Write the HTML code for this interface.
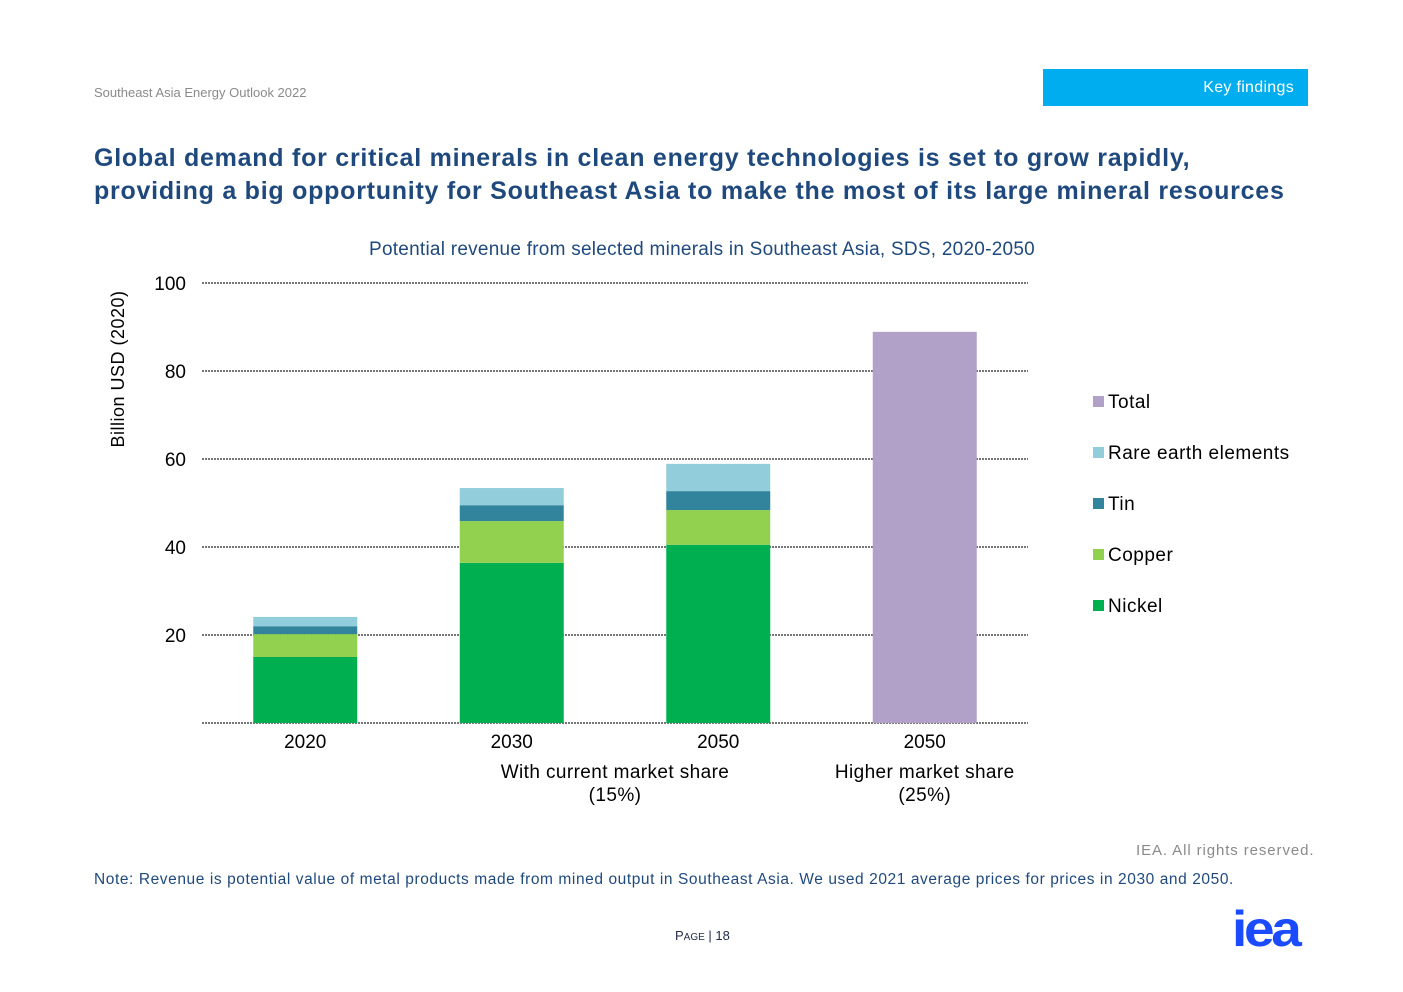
<!DOCTYPE html>
<html><head><meta charset="utf-8"><style>
body{margin:0;background:#fff;font-family:"Liberation Sans",Arial,sans-serif;}
#page{position:relative;width:1403px;height:992px;overflow:hidden;background:#fff;}
.abs{position:absolute;white-space:nowrap;}
</style></head><body>
<div id="page">
<div class="abs" style="left:94px;top:85px;font-size:13px;color:#8a8a8a;">Southeast Asia Energy Outlook 2022</div>
<div class="abs" style="left:1043px;top:69px;width:265px;height:37px;background:#00aeef;color:#fff;font-size:16px;line-height:37px;text-align:right;box-sizing:border-box;padding-right:14px;letter-spacing:0.3px;">Key findings</div>
<div class="abs" style="left:94px;top:142px;font-size:25px;font-weight:bold;color:#1f497d;line-height:33px;letter-spacing:0.75px;">Global demand for critical minerals in clean energy technologies is set to grow rapidly,<br>providing a big opportunity for Southeast Asia to make the most of its large mineral resources</div>
<svg class="abs" style="left:0;top:0" width="1403" height="992" id="chart"></svg>
<div class="abs" style="left:1136px;top:842px;font-size:15px;color:#8a8a8a;letter-spacing:0.9px;">IEA. All rights reserved.</div>
<div class="abs" style="left:94px;top:871px;font-size:15.5px;color:#1f497d;letter-spacing:0.58px;">Note: Revenue is potential value of metal products made from mined output in Southeast Asia. We used 2021 average prices for prices in 2030 and 2050.</div>
<div class="abs" style="left:675px;top:928px;font-size:13px;color:#1f2a44;">P<span style="font-size:10px">AGE</span> | 18</div>
<div class="abs" style="left:1232px;top:903px;font-size:50px;font-weight:bold;color:#1a4bff;letter-spacing:-3px;line-height:52px;transform:scaleX(1.1);transform-origin:left;">iea</div>
</div>
<script>
const categories=["2020","2030","2050","2050"];
const nickel=[15.0,36.4,40.5,0];
const copper=[5.2,9.5,7.9,0];
const tin=[1.8,3.6,4.3,0];
const rareEarth=[2.1,3.9,6.2,0];
const total=[0,0,0,88.9];
const yTicks=[20,40,60,80,100];
const seriesNames=["Nickel","Copper","Tin","Rare earth elements","Total"];
const colors=["#00b050","#92d050","#31849b","#92cddc","#b1a0c7"];
const svg=document.getElementById('chart');
const NS="http://www.w3.org/2000/svg";
const x0=202,x1=1028,yBase=723,yTop=283,yMax=100;
const y=v=>yBase-(v/yMax)*(yBase-yTop);
const band=(x1-x0)/categories.length;
const bw=104;
const xc=i=>x0+band*(i+0.5);
function mk(t,a){const e=document.createElementNS(NS,t);for(const k in a)e.setAttribute(k,a[k]);svg.appendChild(e);return e;}
function txt(s,a){const e=mk('text',a);e.textContent=s;return e;}
let t=txt("Potential revenue from selected minerals in Southeast Asia, SDS, 2020-2050",{x:702,y:255,'text-anchor':'middle','font-size':19,fill:'#1f497d','letter-spacing':0.25});


yTicks.forEach(v=>{
 const l=mk('line',{x1:x0,x2:x1,y1:y(v),y2:y(v),stroke:'#777','stroke-width':2,'stroke-dasharray':'2 1'});
 
 
 const tl=txt(String(v),{x:186,y:y(v)+7,'text-anchor':'end','font-size':19,fill:'#000'});
 
 
});
const base=mk('line',{x1:x0,x2:x1,y1:yBase,y2:yBase,stroke:'#777','stroke-width':2,'stroke-dasharray':'2 1'});


const yt=txt("Billion USD (2020)",{x:0,y:0,transform:'translate(124,369) rotate(-90)','text-anchor':'middle','font-size':18,fill:'#000','letter-spacing':0.5});


const series=[nickel,copper,tin,rareEarth,total];
categories.forEach((c,i)=>{
 let acc=0;
 series.forEach((s,k)=>{
  const v=s[i]; if(!v)return;
  const r=mk('rect',{x:xc(i)-bw/2,y:y(acc+v),width:bw,height:y(acc)-y(acc+v),fill:colors[k]});
  
  
  acc+=v;
 });
 const cl=txt(c,{x:xc(i),y:748,'text-anchor':'middle','font-size':19,fill:'#000'});
 
 
});
[["With current market share","(15%)",(xc(1)+xc(2))/2],["Higher market share","(25%)",xc(3)]].forEach(g=>{
 const a=txt(g[0],{x:g[2],y:778,'text-anchor':'middle','font-size':19,fill:'#000','letter-spacing':0.4});
 
 
 const b=txt(g[1],{x:g[2],y:801,'text-anchor':'middle','font-size':19,fill:'#000','letter-spacing':0.4});
 
 
});
[4,3,2,1,0].forEach((k,j)=>{
 const ly=402+j*51;
 const r=mk('rect',{x:1093,y:ly-6,width:11,height:11,fill:colors[k]});
 
 
 const lt=txt(seriesNames[k],{x:1108,y:ly+6,'font-size':19,fill:'#000','letter-spacing':0.5});
 
 
});
</script>
</body></html>
